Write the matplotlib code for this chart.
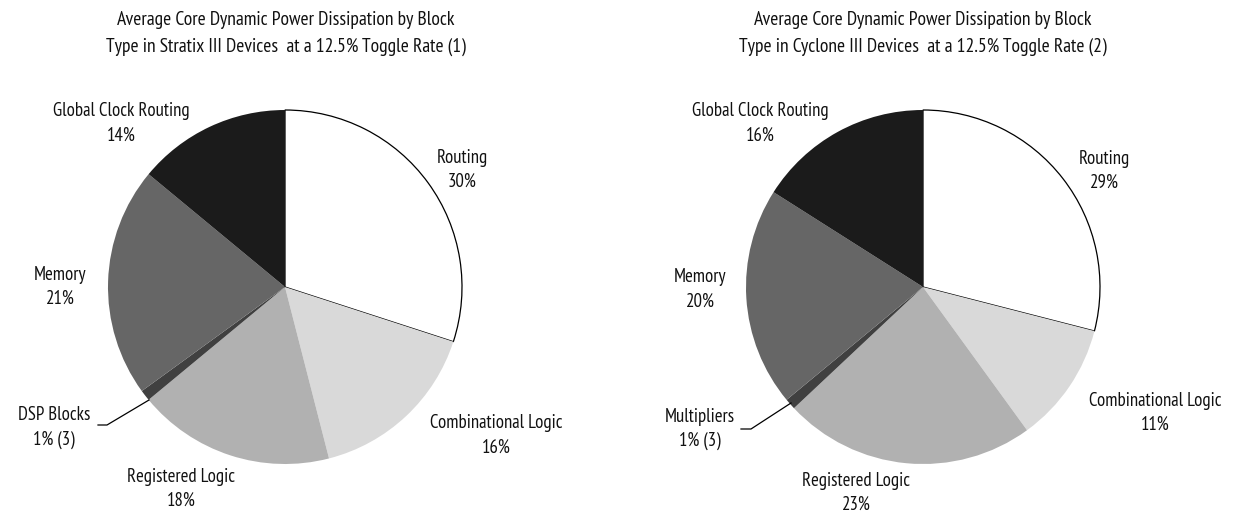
import matplotlib
matplotlib.use("Agg")
import matplotlib.pyplot as plt
from matplotlib import font_manager as fm

W, H = 1233, 513

# Data
left_labels = ["Routing", "Combinational Logic", "Registered Logic", "DSP Blocks", "Memory", "Global Clock Routing"]
left_values = [30, 16, 18, 1, 21, 14]
left_pct_text = ["30%", "16%", "18%", "1% (3)", "21%", "14%"]
left_title = ["Average Core Dynamic Power Dissipation by Block",
              "Type in Stratix III Devices  at a 12.5% Toggle Rate (1)"]

right_labels = ["Routing", "Combinational Logic", "Registered Logic", "Multipliers", "Memory", "Global Clock Routing"]
right_values = [29, 11, 23, 1, 20, 16]
right_pct_text = ["29%", "11%", "23%", "1% (3)", "20%", "16%"]
right_title = ["Average Core Dynamic Power Dissipation by Block",
               "Type in Cyclone III Devices  at a 12.5% Toggle Rate (2)"]

colors = ["#ffffff", "#d9d9d9", "#b1b1b1", "#404040", "#666666", "#1b1b1b"]

names = {f.name for f in fm.fontManager.ttflist}
candidates = ["PT Sans Narrow", "Pragati Narrow", "Roboto Condensed", "Archivo Narrow",
              "Asap Condensed", "Encode Sans Condensed", "Fira Sans Condensed",
              "Open Sans Condensed", "Liberation Sans Narrow"]
fam = next((c for c in candidates if c in names), "DejaVu Sans")
plt.rcParams["font.family"] = [fam, "DejaVu Sans"]

fig = plt.figure(figsize=(W / 100, H / 100), dpi=100)
ax = fig.add_axes([0, 0, 1, 1])
ax.axis("off")

# font size so that "Global Clock Routing" is ~136 px wide, close to the reference
renderer = fig.canvas.get_renderer()
probe = fig.text(0, 0, "Global Clock Routing", fontsize=10)
wpx = probe.get_window_extent(renderer).width
probe.remove()
FS = max(8.0, min(16.0, 10 * 136 / wpx))
TFS = FS * 1.04


def Y(y):
    return H - y


def draw(cx, cy, r, values, labels, pcts, title, title_x, label_pos, leader):
    wedges, _ = ax.pie(values, colors=colors, startangle=90, counterclock=False,
                       center=(cx, Y(cy)), radius=r,
                       wedgeprops=dict(linewidth=0))
    wedges[0].set_edgecolor("black")
    wedges[0].set_linewidth(0.9)
    for line, yb in zip(title, (25, 52)):
        ax.text(title_x, Y(yb), line, ha="center", va="baseline", fontsize=TFS,
                color="#111111")
    for lab, pct, (x, y) in zip(labels, pcts, label_pos):
        ax.text(x, Y(y - 12 + 6.5), lab, ha="center", va="baseline",
                fontsize=FS, color="#111111")
        ax.text(x, Y(y + 12 + 6.5), pct, ha="center", va="baseline",
                fontsize=FS, color="#111111")
    xs, ys = zip(*leader)
    ax.plot(xs, [Y(v) for v in ys], color="black", lw=0.9)


draw(285, 287, 177, left_values, left_labels, left_pct_text, left_title, 286,
     [(462, 168.5), (496, 434), (181, 487.5), (54, 426), (60, 285.5), (121, 122)],
     [(98, 425), (107, 425), (149, 400)])
draw(923, 287, 177, right_values, right_labels, right_pct_text, right_title, 923,
     [(1104, 169), (1155, 411), (856, 491), (700, 427), (700, 288), (760, 122)],
     [(741, 429), (751, 429), (791, 403)])

ax.set_xlim(0, W)
ax.set_ylim(0, H)
ax.set_aspect("equal")
ax.axis("off")

fig.savefig("out.png", dpi=100)
